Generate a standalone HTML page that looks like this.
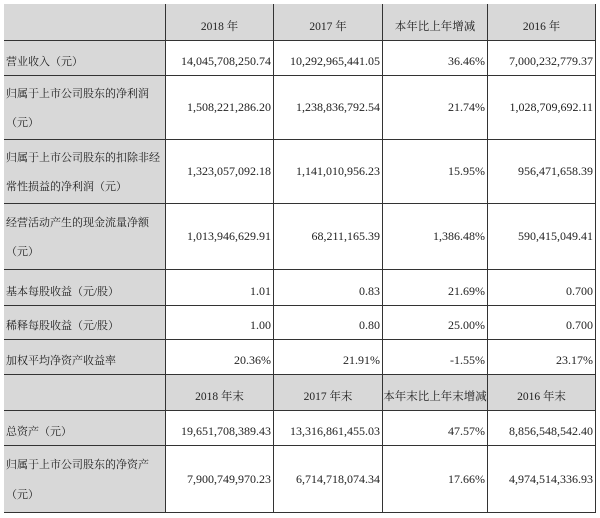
<!DOCTYPE html>
<html><head><meta charset="utf-8"><style>
body{margin:0;width:600px;height:518px;background:#fff;font-family:"Liberation Serif","Noto Serif CJK SC",serif;color:#222;overflow:hidden}
.c{position:absolute;box-sizing:border-box;border-right:1px solid #333;border-bottom:1px solid #333;display:flex;font-size:12px;white-space:nowrap;overflow:hidden}
.g{background:#d8d8d8}
.n{justify-content:flex-end;align-items:flex-end;padding:0 2px 6px 0}
.m{justify-content:flex-end;align-items:center;padding-right:2px}
.h{justify-content:center;align-items:flex-end;padding-bottom:6px;font-size:11.5px}
.l{align-items:flex-end;padding:0 0 6px 2px;font-size:11px}
.l2{flex-direction:column;justify-content:space-around;padding:4px 0 2px 2px;font-size:11px;line-height:18px}
</style></head><body>
<div style="position:absolute;left:4px;top:4px;width:592px;height:509px;border-left:1px solid #333;border-top:1px solid #333;box-sizing:border-box"></div>
<div id="t"></div>
<script>
var X=[4,166,274,383,488,596],Y=[4,41,76,140,204,270,306,340,375,411,446,513];
var rows=[
["h",["","2018 年","2017 年","本年比上年增减","2016 年"]],
["1",["营业收入（元）","14,045,708,250.74","10,292,965,441.05","36.46%","7,000,232,779.37"]],
["2",["归属于上市公司股东的净利润|（元）","1,508,221,286.20","1,238,836,792.54","21.74%","1,028,709,692.11"]],
["2",["归属于上市公司股东的扣除非经|常性损益的净利润（元）","1,323,057,092.18","1,141,010,956.23","15.95%","956,471,658.39"]],
["2",["经营活动产生的现金流量净额|（元）","1,013,946,629.91","68,211,165.39","1,386.48%","590,415,049.41"]],
["1",["基本每股收益（元/股）","1.01","0.83","21.69%","0.700"]],
["1",["稀释每股收益（元/股）","1.00","0.80","25.00%","0.700"]],
["1",["加权平均净资产收益率","20.36%","21.91%","-1.55%","23.17%"]],
["h",["","2018 年末","2017 年末","本年末比上年末增减","2016 年末"]],
["1",["总资产（元）","19,651,708,389.43","13,316,861,455.03","47.57%","8,856,548,542.40"]],
["2",["归属于上市公司股东的净资产|（元）","7,900,749,970.23","6,714,718,074.34","17.66%","4,974,514,336.93"]]];
var h="";
rows.forEach(function(r,i){for(var j=0;j<5;j++){var cls="c";
if(r[0]=="h")cls+=" g h";else if(j==0)cls+=" g "+(r[0]=="2"?"l2":"l");else cls+=" "+(r[0]=="2"?"m":"n");
var txt=r[1][j];if(j==0&&r[0]=="2")txt=txt.split("|").map(function(s){return"<div>"+s+"</div>"}).join("");
h+='<div class="'+cls+'" style="left:'+X[j]+'px;top:'+Y[i]+'px;width:'+(X[j+1]-X[j])+'px;height:'+(Y[i+1]-Y[i])+'px">'+txt+'</div>';}});
document.getElementById("t").innerHTML=h;
</script>
</body></html>
